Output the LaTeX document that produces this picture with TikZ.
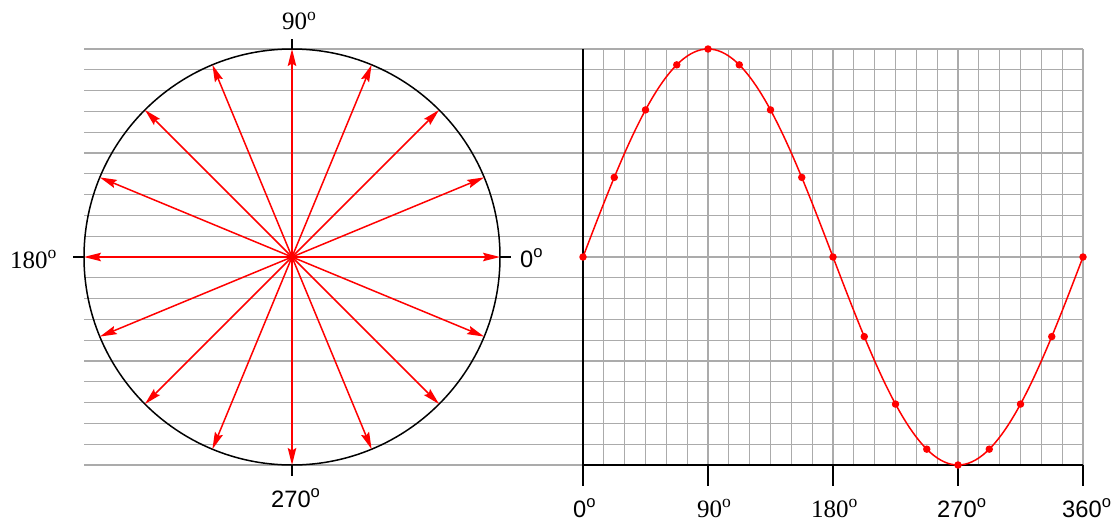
\documentclass[tikz,border=0pt]{standalone}
\usepackage{fontspec}
\setmainfont{Liberation Serif}
\newfontfamily\lsans{Liberation Sans}
\usetikzlibrary{arrows.meta}
\begin{document}
\begin{tikzpicture}[x=1pt,y=-1pt,
  gridline/.style={draw=black!33, line width=1.2pt},
  axisline/.style={draw=black, line width=1.5pt},
  vec/.style={draw=red, line width=1.5pt, -{Stealth[length=17pt,width=8.5pt,inset=2.5pt]}},
  wave/.style={draw=red, line width=1.5pt},
  dot/.style={circle, fill=red, inner sep=0pt, minimum size=7.5pt},
  lab/.style={inner sep=0pt, anchor=base west, font=\fontsize{25}{25}\selectfont},
  slab/.style={inner sep=0pt, anchor=base west, font=\lsans\fontsize{23.7}{24}\selectfont}]
\useasboundingbox (0,0) rectangle (1119,522);
% horizontal grid lines
\foreach \k in {0,...,20}{
  \ifnum\k=10
    \draw[gridline] (583,{49+20.8*\k}) -- (1083,{49+20.8*\k});
  \else
    \draw[gridline] (84,{49+20.8*\k}) -- (1083,{49+20.8*\k});
  \fi
}
% vertical grid lines
\foreach \j in {0,...,24}
  \draw[gridline] ({583+20.8333*\j},49) -- ({583+20.8333*\j},465);
% circle
\coordinate (c) at (292,257);
\draw[line width=1.5pt] (c) circle (208pt);
\foreach \i in {0,...,15}
  \path (c) ++(\i*22.5:208pt) coordinate (p\i);
% ticks on circle
\coordinate (t0) at (511,257);
\coordinate (t4) at (292,39);
\coordinate (t8) at (73,257);
\coordinate (t12) at (292,476);
\draw[axisline] (p0) -- (t0);
\draw[axisline] (p4) -- (t4);
\draw[axisline] (p8) -- (t8);
\draw[axisline] (p12) -- (t12);
% vectors
\foreach \i in {0,...,15}
  \draw[vec] (c) -- (p\i);
% circle labels
\node[lab] (l90) at (282,29.5) {90\textsuperscript{o}};
\node[lab] (l180) at (10,268) {180\textsuperscript{o}};
\node[slab] (l0) at (520,267) {0\textsuperscript{o}};
\node[slab] (l270) at (271,507) {270\textsuperscript{o}};
% axes
\coordinate (o) at (583,465);
\coordinate (ytop) at (583,49);
\coordinate (xend) at (1083,465);
\draw[axisline] (o) -- (ytop);
\draw[axisline] (o) -- (xend);
\foreach \k in {0,...,4}{
  \coordinate (a\k) at ({583+125*\k},465);
  \coordinate (b\k) at ({583+125*\k},486);
  \draw[axisline] (a\k) -- (b\k);
}
% sine wave
\draw[wave] plot[domain=0:360, samples=145, smooth] ({583+\x*1.388889},{257-208*sin(\x)});
\foreach \k in {0,...,16}
  \node[dot] (s\k) at ({583+31.25*\k},{257-208*sin(22.5*\k)}) {};
% axis labels
\node[slab] (x0) at (573,517) {0\textsuperscript{o}};
\node[lab] (x90) at (697,517) {90\textsuperscript{o}};
\node[lab] (x180) at (811,517) {180\textsuperscript{o}};
\node[slab] (x270) at (937,517) {270\textsuperscript{o}};
\node[slab] (x360) at (1062,517) {360\textsuperscript{o}};
\end{tikzpicture}
\end{document}
